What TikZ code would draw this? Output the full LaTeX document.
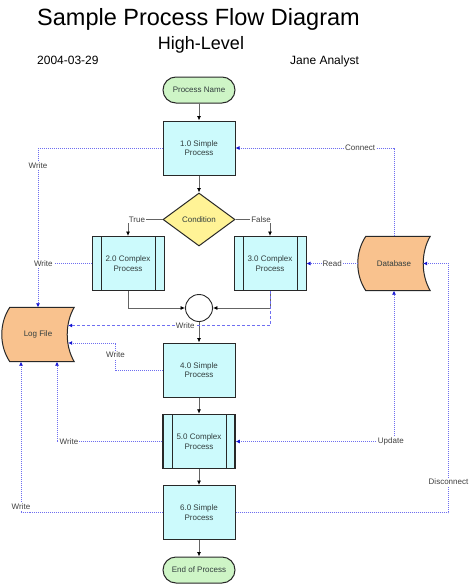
\documentclass[tikz,border=0pt]{standalone}
\usepackage{fontspec}
\setmainfont{Liberation Sans}
\usetikzlibrary{shapes.geometric,arrows.meta,backgrounds}
\definecolor{procfill}{RGB}{204,250,252}
\definecolor{termfill}{RGB}{206,245,198}
\definecolor{condfill}{RGB}{255,243,150}
\definecolor{storefill}{RGB}{249,194,142}
\definecolor{boxline}{RGB}{40,40,40}
\definecolor{boxtext}{RGB}{50,62,62}
\definecolor{flowline}{RGB}{100,100,100}
\definecolor{linkblue}{RGB}{110,110,240}
\definecolor{tipblue}{RGB}{20,20,210}
\definecolor{lbltext}{RGB}{64,64,64}
\begin{document}
\begin{tikzpicture}[x=1pt,y=-1pt,
	boxfont/.style={font=\fontsize{8}{9.5}\selectfont,text=boxtext},
	box/.style={draw=boxline,fill=procfill,line width=1pt,minimum width=72pt,minimum height=54pt,inner sep=1pt,align=center,boxfont},
	complexbox/.style={box,path picture={\draw[boxline,line width=1pt] ([xshift=9pt]path picture bounding box.north west) -- ([xshift=9pt]path picture bounding box.south west) ([xshift=-9pt]path picture bounding box.north east) -- ([xshift=-9pt]path picture bounding box.south east);}},
	term/.style={box,fill=termfill,rounded corners=13pt,minimum height=26pt},
	cond/.style={diamond,draw=boxline,fill=condfill,line width=1pt,minimum width=72pt,minimum height=53pt,inner sep=0pt,boxfont},
	store/.style={minimum width=72pt,minimum height=54pt,inner sep=0pt,boxfont},
	storeline/.style={draw=boxline,fill=storefill,line width=1pt},
	flow/.style={draw=flowline,line width=0.8pt,-{Latex[length=4.5pt,width=4pt,color=black]}},
	link/.style={draw=linkblue,line width=0.7pt,dash pattern=on 1pt off 1pt,-{Latex[length=4pt,width=4pt,color=tipblue]}},
	linkboth/.style={link,{Latex[length=4pt,width=4pt,color=tipblue]}-{Latex[length=4pt,width=4pt,color=tipblue]}},
	lbl/.style={fill=white,inner sep=1pt,font=\fontsize{8}{9}\selectfont,text=lbltext}]

	\useasboundingbox (0,0) rectangle (474,586);

	\node[anchor=base,font=\fontsize{23.5}{28}\selectfont] (title) at (198.5,26) {Sample Process Flow Diagram};
	\node[anchor=base,font=\fontsize{18}{22}\selectfont] (subtitle) at (201,49) {High-Level};
	\node[anchor=base west,inner sep=0pt,font=\fontsize{12}{14}\selectfont] (date) at (37,65) {2004-03-29};
	\node[anchor=base west,inner sep=0pt,font=\fontsize{12}{14}\selectfont] (analyst) at (290,65) {Jane Analyst};

	\node[term] (pn) at (199,90) {Process Name};
	\node[box] (p1) at (199,148) {1.0 Simple\\Process};
	\node[cond] (cnd) at (199,219.5) {Condition};
	\node[complexbox] (p2) at (128,263.5) {2.0 Complex\\Process};
	\node[complexbox] (p3) at (270,263.5) {3.0 Complex\\Process};
	\node[circle,draw=boxline,line width=0.9pt,minimum size=27pt,inner sep=0pt] (jn) at (199,308) {};
	\node[box] (p4) at (199,370) {4.0 Simple\\Process};
	\node[complexbox,line width=1.5pt] (p5) at (199,441.5) {5.0 Complex\\Process};
	\node[box] (p6) at (199,512.5) {6.0 Simple\\Process};
	\node[term] (endp) at (199,570) {End of Process};

	\node[store] (db) at (394,263.5) {Database};
	\node[store] (log) at (38,334.5) {Log File};
	\begin{scope}[on background layer]
	\foreach \s in {db,log}
	  \path[storeline] ([xshift=8pt]\s.north west) -- (\s.north east) .. controls ([xshift=-9.3pt,yshift=-16pt]\s.north east) and ([xshift=-9.3pt,yshift=16pt]\s.south east) .. (\s.south east) -- ([xshift=8pt]\s.south west) .. controls ([xshift=-2.7pt,yshift=16pt]\s.south west) and ([xshift=-2.7pt,yshift=-16pt]\s.north west) .. cycle;
	\end{scope}

	\draw[flow] (pn) -- (p1);
	\draw[flow] (p1) -- (cnd);
	\draw[flow] (cnd.west) -| node[lbl,pos=0.37]{True} (p2.north);
	\draw[flow] (cnd.east) -| node[lbl,pos=0.37]{False} (p3.north);
	\draw[flow] (p2.south) |- (jn.west);
	\draw[flow] (p3.south) |- (jn.east);
	\draw[flow] (jn) -- (p4);
	\draw[flow] (p4) -- (p5);
	\draw[flow] (p5) -- (p6);
	\draw[flow] (p6) -- (endp);

	\draw[link] (p1.west) -| node[lbl,pos=0.555]{Write} (log.north);
	\draw[link] (db.north) |- node[lbl,pos=0.607]{Connect} (p1.east);
	\coordinate (wj) at (log.north |- p2.west);
	\draw[link,-] (p2.west) -- node[lbl,pos=0.9]{Write} (wj);
	\draw[link] (db.west) -- node[lbl]{Read} (p3.east);
	\draw[link,dash pattern=on 3pt off 2pt] (p3.south) |- node[lbl,pos=0.71]{Write} ([xshift=-6pt,yshift=9pt]log.east);
	\draw[link] (p4.west) -- ++(-47,0) |- node[lbl,pos=0.28]{Write} ([xshift=-6pt,yshift=-8.5pt]log.east);
	\draw[link] (p5.west) -| node[lbl,pos=0.443]{Write} ([xshift=19pt]log.south);
	\draw[linkboth] (p5.east) -| node[lbl,pos=0.49]{Update} (db.south);
	\draw[link] (p6.west) -| node[lbl,pos=0.518]{Write} ([xshift=-17pt]log.south);
	\draw[link] (p6.east) -- ++(213,0) |- node[lbl,pos=0.061]{Disconnect} ([xshift=-7pt]db.east);

\end{tikzpicture}
\end{document}
